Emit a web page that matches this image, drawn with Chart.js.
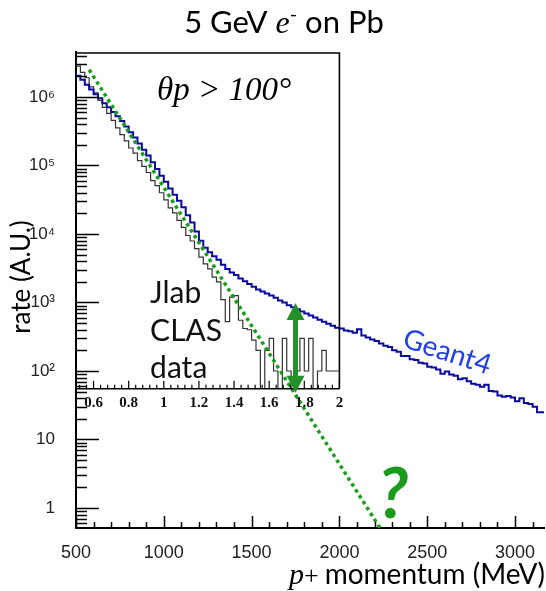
<!DOCTYPE html>
<html><head><meta charset="utf-8">
<script src="https://cdn.jsdelivr.net/npm/chart.js@4/dist/chart.umd.min.js"></script>
<style>html,body{margin:0;padding:0;background:#fff}canvas{display:block}</style>
</head><body>
<canvas id="c" width="546" height="591"></canvas>
<script>
// ---- data (MeV, arbitrary rate units) ----
const binWidth = 25;
const geantStart = 500;
const geantValues = [
 2400000,2040000,1780000,1510000,1290000,1100000,955000,813000,708000,603000,
 525000,447000,372000,305000,256000,210000,170000,140000,112000,89000,
 71000,58000,46000,37500,30500,24500,18800,14700,10900,8000,
 6300,5400,4750,4200,3550,3090,2750,2510,2240,2040,
 1860,1700,1550,1450,1350,1260,1170,1070,1000,912,
 851,794,741,692,646,603,562,525,490,457,
 427,417,389,380,363,407,331,309,288,275,
 251,234,224,200,191,166,166,148,145,132,
 129,115,112,105,91,98,89,85,76,78,
 71,65,63,59,63,51,50,44,42,43,
 41,36,40,34,33,30,25
];
const clasStart = 500;
const clasValues = [
 3310000,2820000,2290000,1910000,1410000,1150000,891000,708000,575000,457000,
 355000,282000,229000,180000,152000,118000,97000,79000,60000,51000,
 40000,31500,24000,20400,15800,12500,9500,7900,6100,4600,
 3650,3100,2350,2000,1100,525,1200,1260,550,417,
 400,282,200,1,200,300,100,1,300,100,
 1,100,300,100,300,1,100,200,100,100
];
const fitX = [575, 2240];
const fitY = [2500000, 0.47];
const arrowX = 1750;
const arrowY = [980, 48];
const xTicks = [500,1000,1500,2000,2500,3000];
const xTickLabels = ['500','1000','1500','2000','2500','3000'];
const yTicks = [1,10,100,1000,10000,100000,1000000];
const yTickLabels = ['1','10','10\u00B2','10\u00B3','10\u2074','10\u2075','10\u2076'];
const insetTicksGeV = [0.6,0.8,1,1.2,1.4,1.6,1.8,2];
const insetTickLabels = ['0.6','0.8','1','1.2','1.4','1.6','1.8','2'];
const insetXMax = 2000, insetYMin = 55;

function hist(start, w, vals){
  const pts = vals.map((v,i)=>({x:start+i*w, y:v}));
  pts.push({x:start+vals.length*w, y:vals[vals.length-1]});
  return pts;
}

const SANS = 'Lato, "Open Sans", sans-serif';
const SERIF = '"Liberation Serif", "DejaVu Serif", serif';

const deco = {
  id: 'deco',
  beforeDatasetDraw(chart, args){
    if (chart.data.datasets[args.index].insetClip){
      const ctx = chart.ctx, ca = chart.chartArea, xs = chart.scales.x, ys = chart.scales.y;
      ctx.save(); ctx.beginPath();
      ctx.rect(ca.left, ca.top, xs.getPixelForValue(insetXMax)-ca.left, ys.getPixelForValue(insetYMin)-ca.top);
      ctx.clip();
    }
  },
  afterDatasetDraw(chart, args){
    if (chart.data.datasets[args.index].insetClip) chart.ctx.restore();
  },
  afterDraw(chart){
    const ctx = chart.ctx, ca = chart.chartArea, xs = chart.scales.x, ys = chart.scales.y;
    const line = (x1,y1,x2,y2)=>{ctx.beginPath();ctx.moveTo(x1,y1);ctx.lineTo(x2,y2);ctx.stroke();};
    ctx.save();
    ctx.strokeStyle = '#000'; ctx.lineWidth = 1.5;
    // y ticks (log, inward)
    for (let e=-1;e<=7;e++) for (let m=1;m<=9;m++){
      const v = m*Math.pow(10,e);
      if (v < ys.min || v > ys.max) continue;
      const py = Math.round(ys.getPixelForValue(v))+0.5;
      line(ca.left, py, ca.left + (m===1?23:11), py);
    }
    // x ticks (upward)
    for (let v=500; v<=xs.max; v+=100){
      const px = Math.round(xs.getPixelForValue(v))+0.5;
      line(px, ca.bottom, px, ca.bottom - (v%500===0?12:6));
    }
    // inset frame & axis
    const ix = xs.getPixelForValue(insetXMax), iy = ys.getPixelForValue(insetYMin);
    ctx.lineWidth = 1.6;
    ctx.beginPath(); ctx.moveTo(ca.left, ca.top+1); ctx.lineTo(ix, ca.top+1); ctx.lineTo(ix, iy); ctx.stroke();
    line(ca.left, iy, ix, iy);
    ctx.lineWidth = 1.2;
    for (let g=520; g<=2000; g+=40){
      const px = xs.getPixelForValue(g);
      line(px, iy, px, iy - (((g-600)%200===0)?8:4));
    }
    ctx.fillStyle = '#111';
    ctx.font = 'bold 15px ' + SERIF;
    ctx.textAlign = 'center'; ctx.textBaseline = 'alphabetic';
    insetTicksGeV.forEach((g,i)=>{ ctx.fillText(insetTickLabels[i], xs.getPixelForValue(g*1000), iy+18); });

    // green double arrow
    const ax = xs.getPixelForValue(arrowX), at = ys.getPixelForValue(arrowY[0]), ab = ys.getPixelForValue(arrowY[1]);
    ctx.fillStyle = '#23902a';
    ctx.fillRect(ax-2.5, at+14, 5, (ab-14)-(at+14));
    ctx.beginPath(); ctx.moveTo(ax, at); ctx.lineTo(ax-9, at+17); ctx.lineTo(ax+9, at+17); ctx.closePath(); ctx.fill();
    ctx.beginPath(); ctx.moveTo(ax, ab); ctx.lineTo(ax-9, ab-17); ctx.lineTo(ax+9, ab-17); ctx.closePath(); ctx.fill();

    // texts
    ctx.textAlign = 'left'; ctx.textBaseline = 'alphabetic';
    // title
    const segs = [
      {t:'5 GeV ', f:'31px '+SANS, dy:0},
      {t:'e', f:'italic 32px '+SERIF, dy:0},
      {t:'-', f:'20px '+SANS, dy:-12},
      {t:' on Pb', f:'31px '+SANS, dy:0}
    ];
    let tw = 0; segs.forEach(s=>{ctx.font=s.f; s.w=ctx.measureText(s.t).width; tw+=s.w;});
    let tx = 284 - tw/2;
    ctx.fillStyle = '#000';
    segs.forEach(s=>{ctx.font=s.f; ctx.fillText(s.t, tx, 33+s.dy); tx+=s.w;});

    // theta label
    ctx.font = 'italic 33px ' + SERIF;
    ctx.fillText('\u03B8p > 100\u00B0', xs.getPixelForValue(961), ys.getPixelForValue(900000));

    // Jlab CLAS data
    ctx.font = '30px ' + SANS; ctx.fillStyle = '#111';
    const jx = xs.getPixelForValue(922), jy = ys.getPixelForValue(984);
    ctx.fillText('Jlab', jx, jy);
    ctx.fillText('CLAS', jx, jy+38);
    ctx.fillText('data', jx, jy+75);

    // Geant4
    ctx.save();
    ctx.translate(xs.getPixelForValue(2614), ys.getPixelForValue(189));
    ctx.rotate(18*Math.PI/180);
    ctx.font = '28px ' + SANS; ctx.fillStyle = '#1e3ef0'; ctx.textAlign = 'center'; ctx.textBaseline='middle';
    ctx.fillText('Geant4', 0, 0);
    ctx.restore();

    // question mark
    ctx.font = 'bold italic 70px ' + SANS; ctx.fillStyle = '#1c9a1c'; ctx.textAlign = 'center';
    ctx.fillText('?', xs.getPixelForValue(2306), ys.getPixelForValue(0.71));

    // y title
    ctx.save();
    ctx.translate(30, 277); ctx.rotate(-Math.PI/2);
    ctx.font = '26px ' + SANS; ctx.fillStyle = '#000'; ctx.textAlign='center'; ctx.textBaseline='alphabetic';
    ctx.fillText('rate (A.U.)', 0, 0);
    ctx.restore();

    // x title
    ctx.fillStyle = '#000'; ctx.textAlign = 'left';
    ctx.font = '28px ' + SANS;
    const mt = 'momentum (MeV)';
    const mw = ctx.measureText(mt).width;
    const mx = 545 - mw;
    ctx.fillText(mt, mx, 584);
    ctx.font = '26px ' + SERIF;
    const plw = ctx.measureText('+').width;
    ctx.fillText('+', mx - 6 - plw, 584);
    ctx.font = 'italic 30px ' + SERIF;
    const pw = ctx.measureText('p').width;
    ctx.fillText('p', mx - 6 - plw - pw, 584);
    ctx.restore();
  }
};

new Chart(document.getElementById('c'), {
  type: 'line',
  data: {
    datasets: [
      { label:'fit', data: fitX.map((x,i)=>({x, y:fitY[i]})), borderColor:'#1a9e1a', borderWidth:3.5,
        borderDash:[3.5,3.5], pointRadius:0, fill:false, tension:0 },
      { label:'Geant4', data: hist(geantStart, binWidth, geantValues), borderColor:'#0a0aa0', borderWidth:2,
        stepped:'after', pointRadius:0, fill:false },
      { label:'CLAS', data: hist(clasStart, binWidth, clasValues), borderColor:'#333', borderWidth:1.2,
        stepped:'after', pointRadius:0, fill:false, insetClip:true }
    ]
  },
  options: {
    responsive:false, animation:false, devicePixelRatio:1,
    layout:{ padding:{ top:52, right:2, left:0, bottom:0 } },
    plugins:{ legend:{display:false}, title:{display:false}, tooltip:{enabled:false} },
    scales:{
      x:{ type:'linear', min:500, max:3165,
          grid:{display:false}, border:{display:true, color:'#000', width:2},
          afterFit: s=>{ s.height = 63; },
          afterBuildTicks: s=>{ s.ticks = xTicks.map(v=>({value:v})); },
          ticks:{ autoSkip:false, maxRotation:0, padding:6, color:'#222',
                  font:{ family:'"Liberation Sans", Arial, sans-serif', size:18 },
                  callback:(v,i)=>xTickLabels[i] } },
      y:{ type:'logarithmic', min:0.51, max:4540000,
          grid:{display:false}, border:{display:true, color:'#000', width:2},
          afterFit: s=>{ s.width = 76; },
          afterBuildTicks: s=>{ s.ticks = yTicks.map(v=>({value:v})); },
          ticks:{ autoSkip:false, padding:13, color:'#222',
                  font:{ family:'"Liberation Sans", "DejaVu Sans", Arial, sans-serif', size:17 },
                  callback:(v,i)=>yTickLabels[i] } }
    }
  },
  plugins:[deco]
});
</script>
</body></html>
